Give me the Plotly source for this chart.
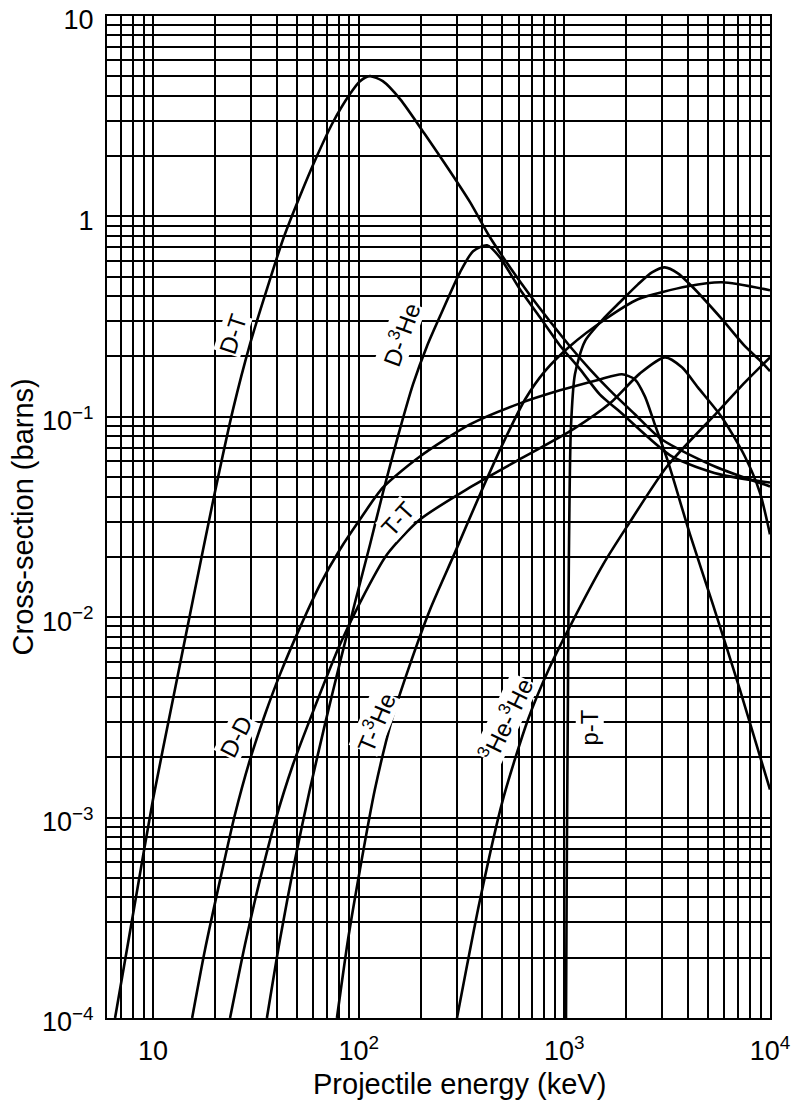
import numpy as np
import plotly.graph_objects as go

# ---------------- data (projectile energy keV, cross-section barns) ----------------
dt_E = [6.54, 8.08, 10, 12.5, 15.65, 19.57, 24.5, 29.6, 35.8, 42.9, 51.8, 62.7, 75.0, 90.7, 101.5, 113.5,
        131, 159, 210, 278, 348, 435, 544, 681, 851, 1064, 1332, 1666, 2203, 2981, 5395, 10000]
dt_s = [1.0e-4, 3.5e-4, 1.23e-3, 3.88e-3, 0.01225, 0.0378, 0.1089, 0.23, 0.433, 0.769, 1.26, 2.0, 2.95, 4.08, 4.73, 5.01,
        4.73, 3.85, 2.57, 1.68, 1.178, 0.787, 0.5575, 0.404, 0.2996, 0.225, 0.1725, 0.1355, 0.103, 0.077, 0.0565, 0.0449]

dhe3_E = [35.8, 41.4, 49.0, 57.9, 68.5, 81.1, 95.9, 113.5, 131.3, 155.2, 183.7, 214.8, 248.5, 311, 360, 421,
          486, 608, 761, 952, 1191, 1490, 1864, 3334, 5705, 10000]
dhe3_s = [1.0e-4, 2.45e-4, 6.15e-4, 1.38e-3, 2.91e-3, 5.93e-3, 0.0118, 0.0230, 0.0419, 0.0798, 0.145, 0.225, 0.317, 0.526, 0.67, 0.718,
          0.625, 0.433, 0.314, 0.227, 0.173, 0.129, 0.106, 0.0634, 0.0516, 0.047]

dd_E = [15.5, 17.9, 21.2, 25.0, 29.6, 35.0, 41.4, 51.8, 64.9, 81.1, 101.4, 131.3, 198.6, 347.6, 608, 952, 1490,
        1905, 2203, 2464, 2754, 3189, 4083, 5280, 7140, 10000]
dd_s = [1.0e-4, 2.19e-4, 4.89e-4, 1.03e-3, 1.94e-3, 3.26e-3, 5.17e-3, 8.87e-3, 0.01455, 0.02176, 0.0307, 0.0444, 0.0634, 0.0916, 0.1167, 0.1355, 0.1537,
        0.163, 0.1537, 0.1265, 0.0916, 0.0599, 0.0259, 0.01156, 4.35e-3, 1.38e-3]

tt_E = [23.7, 28.0, 33.1, 39.2, 47.9, 60.0, 81.1, 101.4, 137.3, 198.6, 347.6, 630, 1102, 1667, 2333, 3085,
        3730, 4460, 5840, 7550, 8930, 10000]
tt_s = [1.0e-4, 2.32e-4, 4.89e-4, 9.53e-4, 1.835e-3, 3.38e-3, 7.30e-3, 0.0118, 0.02055, 0.0307, 0.0444, 0.0627, 0.0865, 0.1167, 0.1647, 0.198,
        0.1765, 0.1402, 0.0993, 0.0634, 0.0419, 0.0259]

the3_E = [78.4, 88.7, 101.4, 119.9, 145.1, 177.5, 222.2, 293.8, 388.9, 514, 644, 805, 1064, 1575, 2280, 3990, 5840, 10000]
the3_s = [1.0e-4, 2.45e-4, 5.48e-4, 1.38e-3, 3.08e-3, 5.80e-3, 0.0109, 0.0210, 0.041, 0.0771, 0.122, 0.169, 0.225, 0.306, 0.386, 0.448, 0.469, 0.428]

he3he3_E = [300.7, 388.9, 502.9, 665.3, 851, 1064, 1542, 2015, 3155, 5520, 7550, 10000]
he3he3_s = [1.0e-4, 3.88e-4, 1.23e-3, 3.08e-3, 5.66e-3, 8.98e-3, 0.0183, 0.0283, 0.0565, 0.105, 0.1485, 0.198]

pt_E = [1019, 1029, 1041, 1052, 1076, 1126, 1259, 1575, 1862, 2280, 2668, 3080, 3566, 4170, 5840, 7550, 9140, 10000]
pt_s = [1.0e-4, 6.9e-4, 3.88e-3, 0.0194, 0.0865, 0.163, 0.238, 0.314, 0.373, 0.458, 0.526, 0.557, 0.52, 0.448, 0.307, 0.225, 0.187, 0.169]

# curve labels: text, energy (keV), cross-section (b), text angle
label_text = ["D-T", "D-<sup>3</sup>He", "T-T", "D-D", "T-<sup>3</sup>He", "<sup>3</sup>He-<sup>3</sup>He", "p-T"]
label_E = [24.4, 160, 156, 25.4, 120, 520, 1332]
label_s = [0.258, 0.258, 0.031, 2.53e-3, 3.01e-3, 3.1e-3, 2.81e-3]
label_angle = [-72, -70, -48, -63, -67, -64, -90]

x_ticks = [10, 100, 1000, 10000]
x_ticktext = ["10", "10<sup>2</sup>", "10<sup>3</sup>", "10<sup>4</sup>"]
y_ticks = [1e-4, 1e-3, 1e-2, 1e-1, 1, 10]
y_ticktext = ["10<sup>\u22124</sup>", "10<sup>\u22123</sup>", "10<sup>\u22122</sup>", "10<sup>\u22121</sup>", "1", "10"]

x_title = "Projectile energy (keV)"
y_title = "Cross-section (barns)"

FONT = "Liberation Sans, Arial, Helvetica, sans-serif"

# ---------------- figure ----------------
fig = go.Figure()
curves = [(dt_E, dt_s), (dhe3_E, dhe3_s), (dd_E, dd_s), (tt_E, tt_s),
          (the3_E, the3_s), (he3he3_E, he3he3_s), (pt_E, pt_s)]
for E, s in curves:
    fig.add_trace(go.Scatter(x=E, y=s, mode="lines",
                             line=dict(color="black", width=2.6, shape="spline", smoothing=0.7),
                             showlegend=False, hoverinfo="skip"))

for t, e, s, a in zip(label_text, label_E, label_s, label_angle):
    fig.add_annotation(x=np.log10(e), y=np.log10(s), xref="x", yref="y", text=t,
                       textangle=a, showarrow=False, bgcolor="white", borderpad=0,
                       font=dict(family=FONT, size=24, color="black"))

minor_x = [m * 10 ** k for k in range(0, 4) for m in range(2, 10)]
minor_y = [m * 10.0 ** k for k in range(-4, 1) for m in range(2, 10)]

common = dict(showgrid=True, gridcolor="black", gridwidth=2,
              showline=True, linecolor="black", linewidth=2, mirror=True,
              ticks="", zeroline=False, automargin=False, ticklabeloverflow="allow",
              tickfont=dict(family=FONT, size=27, color="black"))

fig.update_xaxes(type="log", range=[np.log10(5.976), 4],
                 tickmode="array", tickvals=x_ticks, ticktext=x_ticktext,
                 minor=dict(tickmode="array", tickvals=minor_x, showgrid=True,
                            gridcolor="black", gridwidth=2, ticks=""),
                 ticklabelstandoff=8, **common)
fig.update_yaxes(type="log", range=[-4, 1],
                 tickmode="array", tickvals=y_ticks, ticktext=y_ticktext,
                 minor=dict(tickmode="array", tickvals=minor_y, showgrid=True,
                            gridcolor="black", gridwidth=2, ticks=""),
                 ticklabelstandoff=6, ticklabelshift=4, **common)

fig.add_annotation(text=x_title, xref="paper", yref="paper", x=0.532, y=-0.066,
                   xanchor="center", yanchor="middle", showarrow=False,
                   font=dict(family=FONT, size=29, color="black"))
fig.add_annotation(text=y_title, xref="paper", yref="paper", x=-0.126, y=0.5,
                   xanchor="center", yanchor="middle", textangle=-90, showarrow=False,
                   font=dict(family=FONT, size=29, color="black"))

# the page places the figure 8 px from the window's top-left corner
fig.update_layout(width=800, height=1103,
                  margin=dict(l=99, r=38, t=8, b=93, pad=0, autoexpand=False),
                  paper_bgcolor="white", plot_bgcolor="white",
                  font=dict(family=FONT, color="black"))

fig.write_html("out.html")
